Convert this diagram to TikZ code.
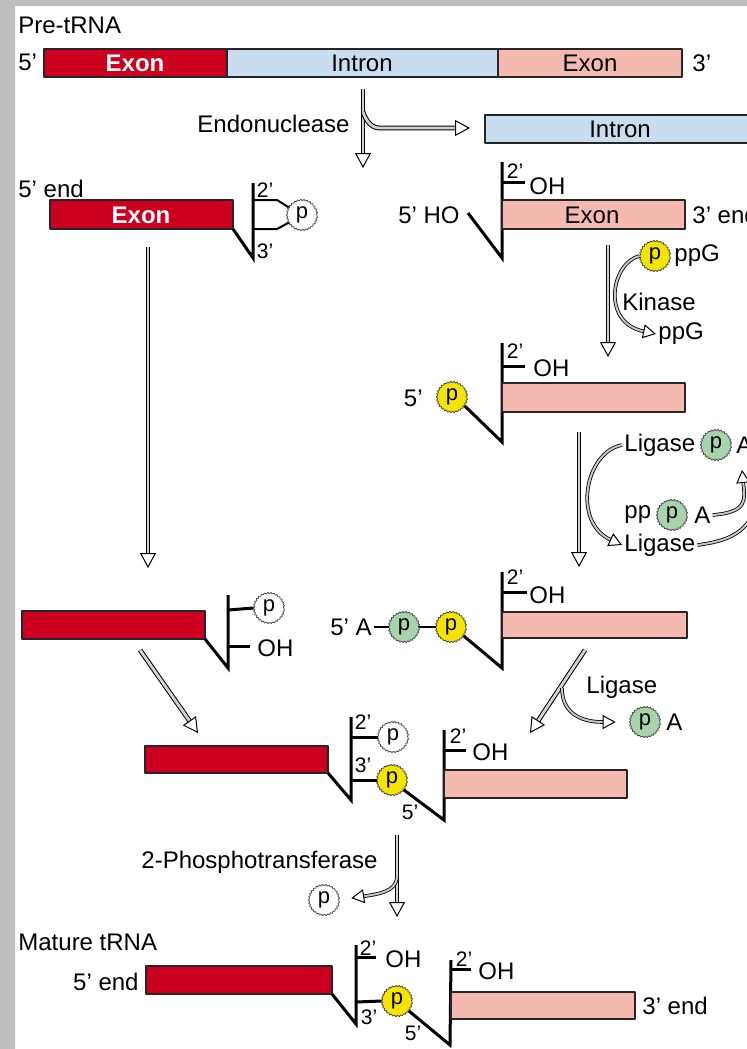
\documentclass[tikz,border=0pt]{standalone}
\usepackage{fontspec}
\setmainfont{Liberation Sans}
\usetikzlibrary{arrows.meta,decorations.pathmorphing,positioning}
\definecolor{exred}{RGB}{204,0,30}
\definecolor{expink}{RGB}{244,186,176}
\definecolor{inblue}{RGB}{200,222,240}
\definecolor{pyellow}{RGB}{245,228,0}
\definecolor{pgreen}{RGB}{168,212,172}
\definecolor{frame}{RGB}{190,190,190}
\tikzset{
  bar/.style={draw=black!85,line width=0.8pt},
  redbar/.style={bar,fill=exred},
  pinkbar/.style={bar,fill=expink},
  bluebar/.style={bar,fill=inblue},
  bb/.style={line width=1.5pt,line cap=butt,line join=miter},
  lab/.style={inner sep=1pt,font=\fontsize{12}{14}\selectfont},
  exlab/.style={lab,text=white,font=\fontsize{12}{14}\selectfont\bfseries},
  sm/.style={inner sep=0.5pt,font=\fontsize{10.5}{12}\selectfont},
  pnode/.style={circle,minimum size=15pt,inner sep=0pt,draw=black!70,line width=0.4pt,
    font=\fontsize{11}{12}\selectfont,decorate,decoration={zigzag,segment length=1.6pt,amplitude=0.35pt}},
  flow/.style={line width=0.5pt,double=gray!35,double distance=1.4pt,
    -{Triangle[open,fill=white,length=7.5pt,width=8pt,line width=0.5pt]}},
  twig/.style={line width=0.4pt,double=gray!45,double distance=1pt,
    -{Triangle[open,fill=white,length=6.5pt,width=7pt,line width=0.5pt]}}
}
\begin{document}
\begin{tikzpicture}[x=0.5pt,y=-0.5pt,line join=round]
  \clip (0,0) rectangle (747,1049);
  \fill[frame] (0,0) rectangle (15,1049) (0,0) rectangle (747,6);
  % pre-tRNA
  \node[lab,anchor=west] (pre) at (16,25) {Pre-tRNA};
  \node[lab,anchor=west] (pre5) at (16,62) {5'};
  \draw[redbar] (44,49) rectangle (227,77);
  \draw[bluebar] (227,49) rectangle (498,77);
  \draw[pinkbar] (498,49) rectangle (682,77);
  \node[exlab] (ex1) at (135,63) {Exon};
  \node[lab] (in1) at (362,63) {Intron};
  \node[lab] (ex1b) at (590,63) {Exon};
  \node[lab,anchor=west] (pre3) at (690,63) {3'};
  % endonuclease
  \coordinate (en0) at (363,89); \coordinate (en1) at (363,168);
  \coordinate (en2) at (363,112); \coordinate (en3) at (470,128);
  \draw[flow] (en0) -- (en1);
  \node[lab,anchor=east] (endo) at (352,124) {Endonuclease};
  \draw[flow] (en2) to[out=-70,in=180] (380,128) -- (en3);
  \draw[bluebar] (485,115) rectangle (760,143);
  \node[lab] (in2) at (620,129) {Intron};
  % 5' half
  \node[lab,anchor=west] (end5a) at (16,189) {5' end};
  \draw[redbar] (50,200) rectangle (233,229);
  \node[exlab] (ex2) at (141,215) {Exon};
  \node[pnode,fill=white] (pc1) at (302,215) {p};
  \draw[bb] (233,229) -- (253,258) -- (253,183);
  \draw[bb,line width=1pt] (253,200) -- (277,200) -- (pc1.150);
  \draw[bb,line width=1pt] (253,229) -- (277,229) -- (pc1.210);
  \node[sm] (c2a) at (265,190) {2'};
  \node[sm] (c3a) at (265,251) {3'};
  % 3' half
  \node[lab,anchor=east] (ho) at (462,215) {5' HO};
  \draw[bb] (468,213) -- (502,258) -- (502,162);
  \draw[bb] (502,182) -- (525,182);
  \node[sm] (c2b) at (515,171) {2'};
  \node[lab,anchor=west] (ohb) at (527,186) {OH};
  \draw[pinkbar] (502,200) rectangle (685,229);
  \node[lab] (ex3) at (592,215) {Exon};
  \node[lab,anchor=west] (end3a) at (690,215) {3' end};
  % kinase
  \draw[flow] (608,245) -- (608,357);
  \node[pnode,fill=pyellow] (pk) at (655,256) {p};
  \node[lab,anchor=west] (ppg1) at (672,256) {ppG};
  \node[lab,anchor=west] (kin) at (620,302) {Kinase};
  \node[lab,anchor=west] (ppg2) at (656,334) {ppG};
  \draw[twig] (pk.west) .. controls (612,262) and (600,322) .. (ppg2.west);
  % phosphorylated 3' half
  \node[pnode,fill=pyellow] (p2) at (452,397) {p};
  \node[lab,anchor=east] (c5b) at (425,398) {5'};
  \draw[bb] (p2.-35) -- (502,442) -- (502,343);
  \draw[bb] (502,366) -- (525,366);
  \node[sm] (c2c) at (515,351) {2'};
  \node[lab,anchor=west] (ohc) at (531,368) {OH};
  \draw[pinkbar] (502,383) rectangle (685,412);
  % ligase, adenylation
  \draw[flow] (579,432) -- (579,567);
  \node[lab,anchor=west] (lig1) at (622,445) {Ligase};
  \node[pnode,fill=pgreen] (pg1) at (716,445) {p};
  \node[lab,anchor=west] (a1) at (734,445) {A};
  \node[lab,anchor=west] (pp) at (622,515) {pp};
  \node[pnode,fill=pgreen] (pg2) at (672,515) {p};
  \node[lab,anchor=west] (a2) at (692,515) {A};
  \node[lab,anchor=west] (lig2) at (622,545) {Ligase};
  \draw[twig] (lig1.west) .. controls (585,452) and (572,522) .. (lig2.west);
  \draw[twig] (a2.east) .. controls (748,512) and (745,500) .. (742,470);
  \draw[twig,-] (lig2.east) .. controls (735,540) and (752,530) .. (762,490);
  % adenylated 3' half
  \node[lab,anchor=west] (a5) at (328,627) {5' A};
  \node[pnode,fill=pgreen] (pg3) at (404,627) {p};
  \node[pnode,fill=pyellow] (py3) at (451,627) {p};
  \draw[bb,line width=1pt] (a5.east) -- (pg3.west) (pg3.east) -- (py3.west);
  \draw[bb] (py3.-35) -- (502,668) -- (502,572);
  \draw[bb] (502,592) -- (527,592);
  \node[sm] (c2d) at (515,577) {2'};
  \node[lab,anchor=west] (ohd) at (527,595) {OH};
  \draw[pinkbar] (502,612) rectangle (687,638);
  % 5' half after cyclic phosphodiesterase
  \draw[flow] (148,247) -- (148,568);
  \draw[redbar] (22,611) rectangle (205,639);
  \node[pnode,fill=white] (pw2) at (269,608) {p};
  \draw[bb] (205,639) -- (228,668) -- (228,595);
  \draw[bb] (228,610) -- (pw2.west);
  \draw[bb] (228,646) -- (250,646);
  \node[lab,anchor=west] (ohe) at (255,648) {OH};
  % joining
  \draw[flow] (140,650) -- (198,733);
  \draw[flow] (585,650) -- (530,733);
  \node[lab,anchor=west] (lig3) at (584,687) {Ligase};
  \node[pnode,fill=pgreen] (pg4) at (645,722) {p};
  \node[lab,anchor=west] (a4) at (664,722) {A};
  \draw[twig,shorten >=7pt] (562,688) .. controls (562,716) and (585,722) .. (pg4.west);
  % ligated
  \draw[redbar] (145,746) rectangle (328,773);
  \node[pnode,fill=white] (pw4) at (393,737) {p};
  \node[pnode,fill=pyellow] (py4) at (392,780) {p};
  \draw[bb] (328,773) -- (351,800) -- (351,717);
  \draw[bb] (351,737) -- (pw4.west);
  \draw[bb] (351,780) -- (py4.west);
  \node[sm] (c2f) at (363,722) {2'};
  \node[sm] (c3f) at (363,765) {3'};
  \draw[bb] (py4.-40) -- (444,820) -- (444,730);
  \draw[bb] (444,750) -- (466,750);
  \node[sm] (c2g) at (458,736) {2'};
  \node[lab,anchor=west] (ohg) at (470,752) {OH};
  \draw[pinkbar] (444,770) rectangle (627,798);
  \node[sm] (c5g) at (410,812) {5'};
  % phosphotransferase
  \draw[flow] (397,835) -- (397,917);
  \node[lab,anchor=east] (ptase) at (380,862) {2-Phosphotransferase};
  \node[pnode,fill=white] (pw5) at (324,900) {p};
  \draw[twig,shorten >=6pt] (397,876) .. controls (397,892) and (378,894) .. (pw5.east);
  % mature tRNA
  \node[lab,anchor=west] (mat) at (16,942) {Mature tRNA};
  \node[lab,anchor=east] (end5b) at (141,982) {5' end};
  \draw[redbar] (146,966) rectangle (332,994);
  \node[pnode,fill=pyellow] (py5) at (397,1001) {p};
  \draw[bb] (332,994) -- (356,1024) -- (356,945);
  \draw[bb] (356,957) -- (376,957);
  \node[sm] (c2h) at (368,948) {2'};
  \node[lab,anchor=west] (ohh) at (383,959) {OH};
  \draw[bb] (356,1002) -- (py5.west);
  \node[sm] (c3h) at (369,1017) {3'};
  \draw[bb] (py5.-40) -- (450,1045) -- (451,960);
  \draw[bb] (451,969) -- (471,969);
  \node[sm] (c2i) at (464,959) {2'};
  \node[lab,anchor=west] (ohi) at (476,971) {OH};
  \draw[pinkbar] (451,992) rectangle (635,1019);
  \node[lab,anchor=west] (end3b) at (640,1006) {3' end};
  \node[sm] (c5i) at (413,1033) {5'};
\end{tikzpicture}
\end{document}
